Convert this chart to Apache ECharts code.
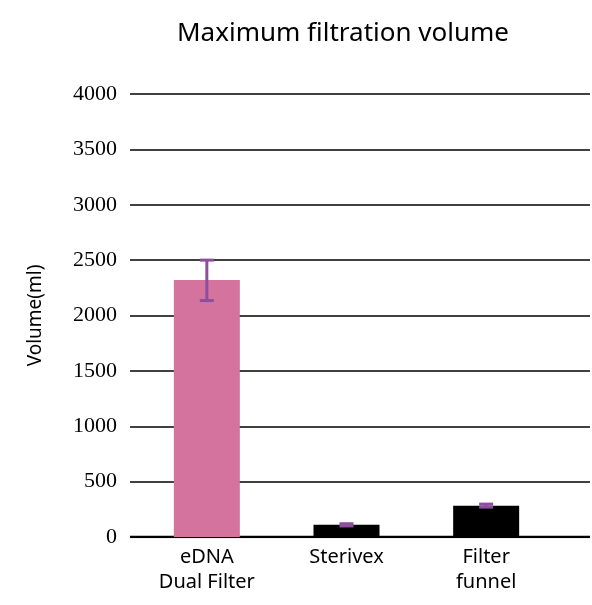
<!DOCTYPE html>
<html>
<head>
<meta charset="utf-8">
<script src="https://cdn.jsdelivr.net/npm/echarts@6/dist/echarts.min.js"></script>
<style>html,body{margin:0;padding:0;background:#fff}#c{width:592px;height:605px}</style>
</head>
<body>
<div id="c"></div>
<script>
const categories = ['eDNA\nDual Filter', 'Sterivex', 'Filter\nfunnel'];
const means = [2320, 110, 283];
const errLow = [2135, 100, 270];
const errHigh = [2500, 120, 297];
const barColors = ['#D4739E', '#000000', '#000000'];
const yTicks = [0, 500, 1000, 1500, 2000, 2500, 3000, 3500, 4000];

const chart = echarts.init(document.getElementById('c'));
const sans = 'Noto Sans';
chart.setOption({
  animation: false,
  title: {
    text: 'Maximum filtration volume',
    left: 338, top: 16, textAlign: 'center',
    textStyle: {fontFamily: sans, fontSize: 26, fontWeight: 'normal', color: '#000'}
  },
  grid: [
    {left: 137, right: 36, top: 94, bottom: 68},
    {left: 130, right: 2, top: 94, bottom: 68}
  ],
  xAxis: [
    {type: 'category', gridIndex: 0, data: categories,
     axisLine: {show: false}, axisTick: {show: false},
     axisLabel: {fontFamily: sans, fontSize: 20, color: '#000', margin: 8, lineHeight: 25}},
    {type: 'value', gridIndex: 1, min: 0, max: 1, show: false}
  ],
  yAxis: [
    {type: 'value', gridIndex: 0, min: 0, max: 4000, interval: 500, show: false},
    {type: 'value', gridIndex: 1, min: 0, max: 4000, interval: 500,
     name: 'Volume(ml)', nameLocation: 'middle', nameGap: 85, nameRotate: 90,
     nameTextStyle: {fontFamily: sans, fontSize: 19, color: '#000'},
     axisLine: {show: false}, axisTick: {show: false},
     axisLabel: {fontFamily: 'Liberation Serif', fontSize: 22, color: '#000', margin: 13,
       formatter: v => yTicks.includes(v) ? String(v) : ''},
     splitLine: {lineStyle: {color: '#000', width: 1.5}}}
  ],
  series: [
    {type: 'line', xAxisIndex: 1, yAxisIndex: 1, data: [[0, 0], [1, 0]],
     symbol: 'none', lineStyle: {color: '#000', width: 2.5}, z: 3},
    {type: 'bar', xAxisIndex: 0, yAxisIndex: 0, barWidth: 66, z: 4,
     data: means.map((v, i) => ({value: v, itemStyle: {color: barColors[i]}}))},
    {type: 'custom', xAxisIndex: 0, yAxisIndex: 0, z: 5,
     data: categories.map((c, i) => [i, errLow[i], errHigh[i]]),
     renderItem: function (params, api) {
       const lo = api.coord([api.value(0), api.value(1)]);
       const hi = api.coord([api.value(0), api.value(2)]);
       const hw = 7;
       const st = {stroke: '#8E4E9E', lineWidth: 3};
       return {type: 'group', children: [
         {type: 'line', shape: {x1: hi[0], y1: hi[1], x2: lo[0], y2: lo[1]}, style: st},
         {type: 'line', shape: {x1: hi[0] - hw, y1: hi[1], x2: hi[0] + hw, y2: hi[1]}, style: st},
         {type: 'line', shape: {x1: lo[0] - hw, y1: lo[1], x2: lo[0] + hw, y2: lo[1]}, style: st}
       ]};
     }}
  ]
});
</script>
</body>
</html>
